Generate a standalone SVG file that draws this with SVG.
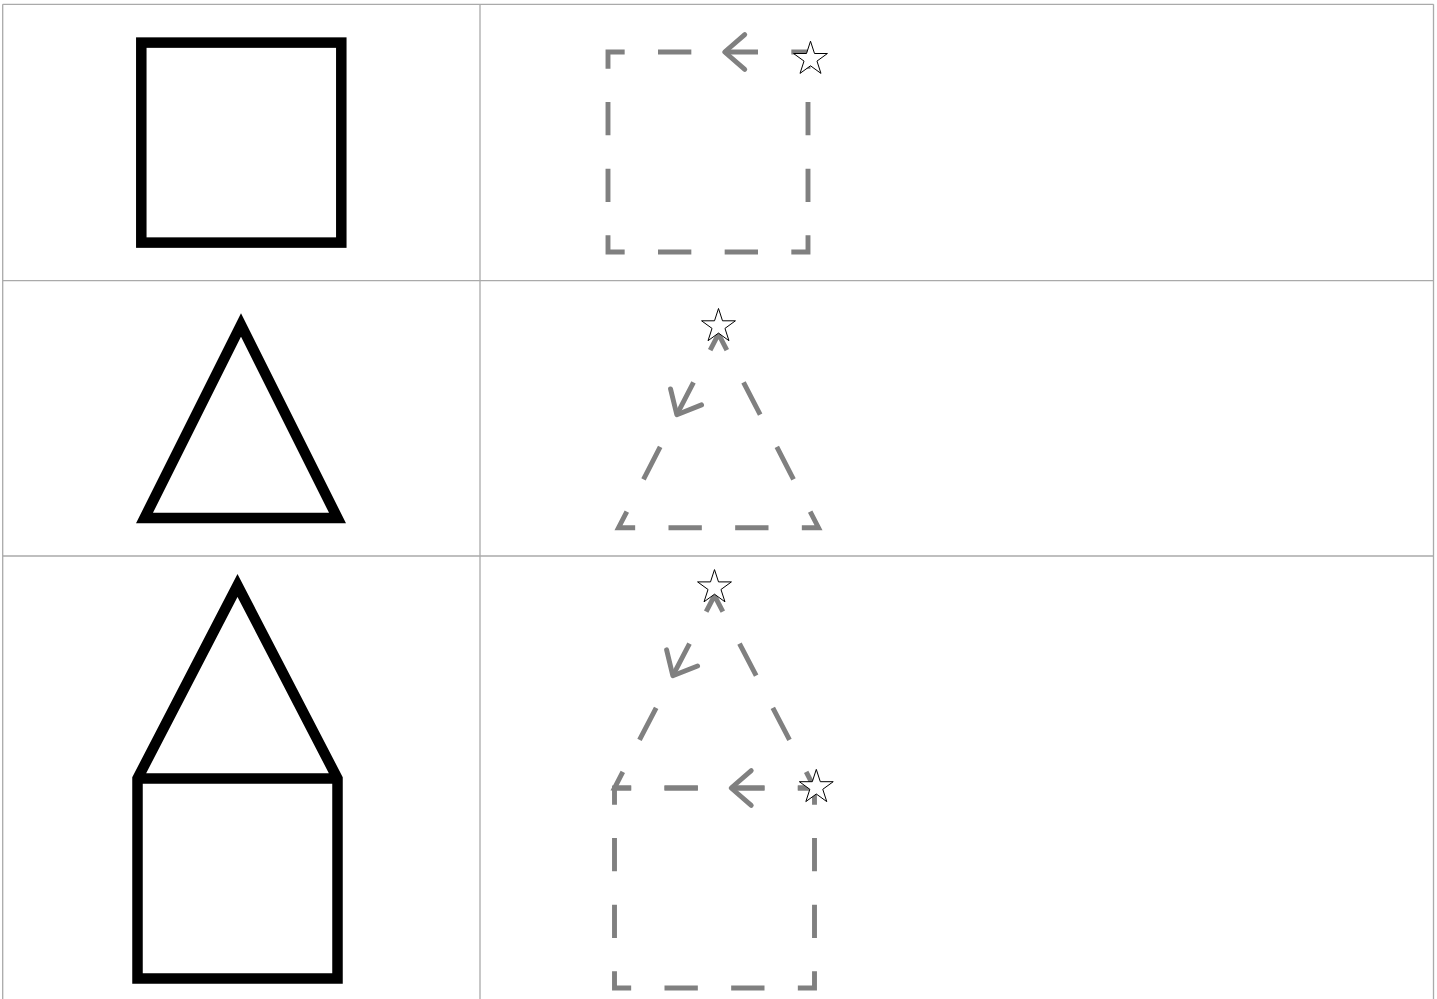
<svg xmlns="http://www.w3.org/2000/svg" width="1437" height="999" viewBox="0 0 1437 999">
  <style>
    .grid { fill: none; stroke: #aaaaaa; stroke-width: 1.3; }
    .solid { fill: none; stroke: #000000; stroke-width: 10.5; stroke-linejoin: miter; }
    .dash { fill: none; stroke: #808080; stroke-width: 4.9; stroke-linecap: butt; stroke-linejoin: miter; }
    .arrow { fill: none; stroke: #808080; stroke-width: 4.9; stroke-linecap: round; stroke-linejoin: round; }
    .star { fill: #ffffff; stroke: #000000; stroke-width: 1; }
  </style>
  <defs>
    <polygon id="star" points="0,-17.8 4,-5.5 16.93,-5.5 6.47,2.1 10.46,14.4 0,6.8 -10.46,14.4 -6.47,2.1 -16.93,-5.5 -4,-5.5"/>
  </defs>
  <rect width="1437" height="999" fill="#ffffff"/>

  <g id="table" class="grid">
    <path d="M2.7,4.3 H1433.5 M2.7,4.3 V999 M1433.5,4.3 V999 M480,4.3 V999 M2.7,280.7 H1433.5 M2.7,556 H1433.5"/>
  </g>

  <g id="row1-square-solid">
    <rect class="solid" x="141.3" y="42.6" width="200" height="200"/>
  </g>

  <g id="row1-square-dashed">
    <path class="dash" d="M624.67,52 L608,52 L608,68.67 M791.33,52 L808,52 L808,68.67 M808,235.33 L808,252 L791.33,252 M624.67,252 L608,252 L608,235.33 M658,52 H691.33 M724.67,52 H758 M658,252 H691.33 M724.67,252 H758 M608,102 V135.33 M608,168.67 V202 M808,102 V135.33 M808,168.67 V202"/>
    <polyline class="arrow" points="744.74,34.55 724.67,52 744.74,69.45"/>
    <use href="#star" class="star" x="810.5" y="59"/>
  </g>

  <g id="row2-triangle-solid">
    <polygon class="solid" points="144.5,518 337.5,518 241,325"/>
  </g>

  <g id="row2-triangle-dashed">
    <path class="dash" d="M710.17,350.14 L718.5,334 L726.83,350.14 M626.83,511.56 L618.5,527.7 L635.17,527.7 M801.83,527.7 L818.5,527.7 L810.17,511.56 M693.5,382.42 L676.83,414.71 M660.17,446.99 L643.5,479.27 M743.5,382.42 L760.17,414.71 M776.83,446.99 L793.5,479.27 M668.5,527.7 H701.83 M735.17,527.7 H768.5"/>
    <polyline class="arrow" points="701.55,404.88 676.83,414.71 670.53,388.87"/>
    <use href="#star" class="star" x="718.5" y="326.3"/>
  </g>

  <g id="row3-house-solid">
    <path class="solid" d="M137.5,978.5 L137.5,778.5 L237.5,585.5 L337.5,778.5 L337.5,978.5 Z M137.5,778.5 H337.5"/>
  </g>

  <g id="row3-house-dashed">
    <path class="dash" d="M706.17,611.54 L714.5,595.5 L722.83,611.54 M622.83,771.96 L614.5,788 L631.17,788 M797.83,788 L814.5,788 L806.17,771.96 M689.5,643.63 L672.83,675.71 M656.17,707.79 L639.5,739.88 M739.5,643.63 L756.17,675.71 M772.83,707.79 L789.5,739.88 M664.5,788 H697.83 M731.17,788 H764.5"/>
    <polyline class="arrow" points="697.57,665.94 672.83,675.71 666.6,649.85"/>
    <path class="dash" d="M631.17,788 L614.5,788 L614.5,804.67 M797.83,788 L814.5,788 L814.5,804.67 M814.5,971.33 L814.5,988 L797.83,988 M631.17,988 L614.5,988 L614.5,971.33 M664.5,788 H697.83 M731.17,788 H764.5 M664.5,988 H697.83 M731.17,988 H764.5 M614.5,838 V871.33 M614.5,904.67 V938 M814.5,838 V871.33 M814.5,904.67 V938"/>
    <polyline class="arrow" points="751.24,770.55 731.17,788 751.24,805.45"/>
    <use href="#star" class="star" x="714.5" y="587.4"/>
    <use href="#star" class="star" x="816.3" y="787.2"/>
  </g>
</svg>
